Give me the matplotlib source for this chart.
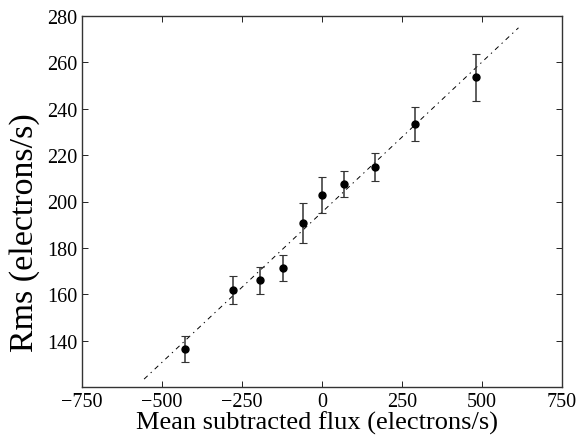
import matplotlib
matplotlib.use("Agg")
import matplotlib.pyplot as plt
import numpy as np

flux = [-427, -279, -193, -123, -60, 0, 68, 167, 290, 482]
rms = [136.4, 161.8, 166.0, 171.4, 190.6, 202.8, 207.6, 214.9, 233.4, 253.6]
rms_err = [5.8, 6.1, 5.8, 5.6, 8.7, 7.7, 5.5, 6.2, 7.5, 10.1]
fit_x = [-556, 614]
fit_slope = 0.1295
fit_intercept = 195.4

xticks = [-750, -500, -250, 0, 250, 500, 750]
yticks = [140, 160, 180, 200, 220, 240, 260, 280]

plt.rcParams['font.family'] = ['Liberation Serif', 'DejaVu Serif']
plt.rcParams['axes.unicode_minus'] = True

fig = plt.figure(figsize=(5.86, 4.39), dpi=100)
ax = fig.add_axes([82/586, 1 - 388/439, 480/586, 371/439])

fx = np.array(fit_x, dtype=float)
ax.plot(fx, fit_slope * fx + fit_intercept, color='black', lw=0.7,
        linestyle=(0, (5, 4.3, 1.4, 4.3)), zorder=1)

ax.errorbar(flux, rms, yerr=rms_err, fmt='o', color='black', ecolor='#333333',
            markersize=5, elinewidth=1.1, capsize=3, capthick=0.8, zorder=3)

ax.set_xlim(-750, 750)
ax.set_ylim(120, 280)
ax.set_xticks(xticks)
ax.set_yticks(yticks)
ax.tick_params(direction='in', top=True, right=True, labelsize=14.5, length=4,
               width=0.6)
ax.tick_params(axis='y', pad=3.5)
ax.tick_params(axis='x', pad=3.5)
for s in ax.spines.values():
    s.set_linewidth(1.0)
    s.set_color('#333333')

ax.set_xlabel('Mean subtracted flux (electrons/s)', fontsize=19)
ax.set_ylabel('Rms (electrons/s)', fontsize=24.5)
ax.xaxis.set_label_coords(0.49, -0.063)
ax.yaxis.set_label_coords(-0.088, 0.418)

fig.savefig('out.png', dpi=100)
